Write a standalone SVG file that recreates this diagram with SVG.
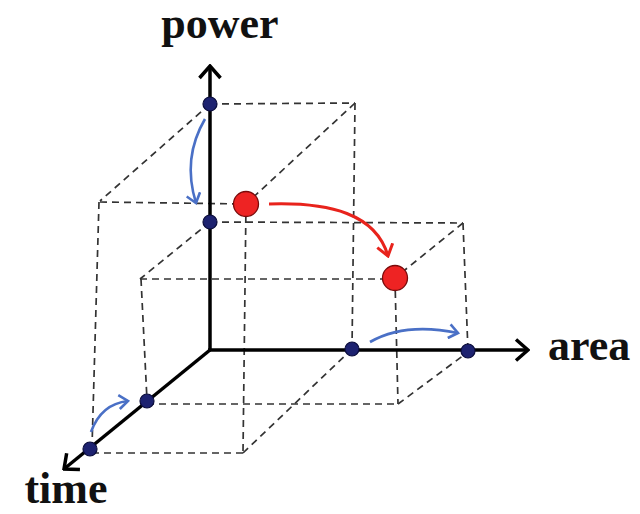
<svg xmlns="http://www.w3.org/2000/svg" width="640" height="514" viewBox="0 0 640 514">
  <style>
    .dash { stroke: #333; stroke-width: 1.7; stroke-dasharray: 7 5; fill: none; }
    .axis { stroke: #000; stroke-width: 3.5; fill: none; }
    .blue { stroke: #4a70c6; stroke-width: 2.6; fill: none; }
    .red { stroke: #e8231c; stroke-width: 3; fill: none; }
    .nav { fill: #1d2270; stroke: #0b0d3c; stroke-width: 1.2; }
    .rdot { fill: #ee2323; stroke: #7a0a0a; stroke-width: 1.3; }
    .lbl { font-family: "Liberation Serif", "Times New Roman", serif; font-weight: bold; font-size: 44px; fill: #111; }
  </style>
  <defs>
    <marker id="axisHead" markerUnits="userSpaceOnUse" viewBox="0 0 16 24" refX="14" refY="12" markerWidth="16" markerHeight="24" orient="auto">
      <path d="M2,1.5 L14,12 L2,22.5" fill="none" stroke="#000" stroke-width="3.5"/>
    </marker>
    <marker id="blueHead" markerUnits="userSpaceOnUse" viewBox="0 0 12 16" refX="10" refY="8" markerWidth="12" markerHeight="16" orient="auto">
      <path d="M1,1 L10,8 L1,15" fill="none" stroke="#4a70c6" stroke-width="2.6"/>
    </marker>
    <marker id="redHead" markerUnits="userSpaceOnUse" viewBox="0 0 14 18" refX="12" refY="9" markerWidth="14" markerHeight="18" orient="auto">
      <path d="M1,1 L12,9 L1,17" fill="none" stroke="#e8231c" stroke-width="3"/>
    </marker>
  </defs>
  <rect width="640" height="514" fill="#fff"/>

  <g id="guides">
    <!-- box A -->
    <line class="dash" x1="210" y1="104" x2="355" y2="103"/>
    <line class="dash" x1="355" y1="103" x2="352" y2="349"/>
    <line class="dash" x1="210" y1="104" x2="100" y2="201"/>
    <line class="dash" x1="355" y1="103" x2="246" y2="204"/>
    <line class="dash" x1="100" y1="202" x2="246" y2="204"/>
    <line class="dash" x1="99" y1="202" x2="92" y2="447"/>
    <line class="dash" x1="246" y1="204" x2="243" y2="453"/>
    <line class="dash" x1="92" y1="453" x2="243" y2="453"/>
    <line class="dash" x1="243" y1="453" x2="352" y2="349"/>
    <!-- box B -->
    <line class="dash" x1="210" y1="222" x2="463" y2="223"/>
    <line class="dash" x1="463" y1="223" x2="468" y2="351"/>
    <line class="dash" x1="463" y1="223" x2="395" y2="278"/>
    <line class="dash" x1="210" y1="222" x2="140" y2="279"/>
    <line class="dash" x1="140" y1="279" x2="395" y2="279"/>
    <line class="dash" x1="141" y1="279" x2="147" y2="400"/>
    <line class="dash" x1="395" y1="279" x2="398" y2="404"/>
    <line class="dash" x1="147" y1="404" x2="398" y2="404"/>
    <line class="dash" x1="398" y1="404" x2="468" y2="352"/>
  </g>

  <g id="axes">
    <line class="axis" x1="210" y1="350" x2="210" y2="66" marker-end="url(#axisHead)"/>
    <line class="axis" x1="208" y1="350" x2="528" y2="350" marker-end="url(#axisHead)"/>
    <line class="axis" x1="210" y1="350" x2="64" y2="469" marker-end="url(#axisHead)"/>
  </g>

  <g id="connectors">
    <path class="blue" d="M205,119 Q182,158 196,203" marker-end="url(#blueHead)"/>
    <path class="blue" d="M370,342 Q405,322 458,333" marker-end="url(#blueHead)"/>
    <path class="blue" d="M91,432 Q101,404 128,401" marker-end="url(#blueHead)"/>
    <path class="red" d="M269,204 C330,202 376,214 388,256" marker-end="url(#redHead)"/>
  </g>

  <g id="node-power-1"><circle class="nav" cx="210" cy="104" r="7"/></g>
  <g id="node-power-2"><circle class="nav" cx="210" cy="222" r="7"/></g>
  <g id="node-area-1"><circle class="nav" cx="352" cy="349" r="7"/></g>
  <g id="node-area-2"><circle class="nav" cx="468" cy="351" r="7"/></g>
  <g id="node-time-1"><circle class="nav" cx="147" cy="401" r="7"/></g>
  <g id="node-time-2"><circle class="nav" cx="90" cy="449" r="7"/></g>
  <g id="node-red-1"><circle class="rdot" cx="246" cy="204" r="12.5"/></g>
  <g id="node-red-2"><circle class="rdot" cx="395" cy="278" r="12.5"/></g>

  <g id="labels">
    <text class="lbl" x="220" y="38" text-anchor="middle">power</text>
    <text class="lbl" x="548" y="360">area</text>
    <text class="lbl" x="66" y="503" text-anchor="middle">time</text>
  </g>
</svg>
